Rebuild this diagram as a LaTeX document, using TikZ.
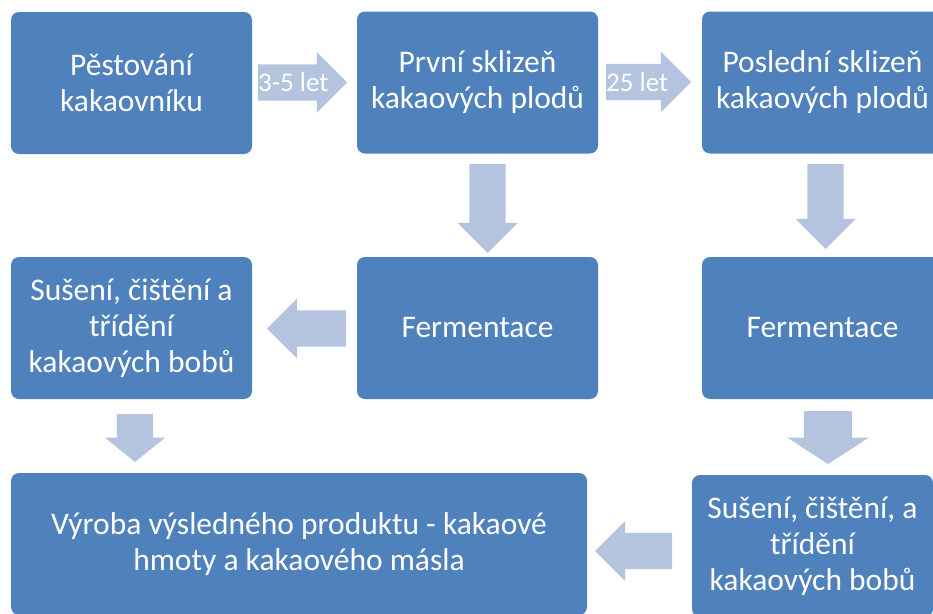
\documentclass[tikz,border=0pt]{standalone}
\usepackage{fontspec}
\setmainfont{Carlito}
\usetikzlibrary{shapes.arrows}
\definecolor{boxblue}{RGB}{79,129,189}
\definecolor{arrowblue}{RGB}{180,196,222}

\begin{document}
\begin{tikzpicture}[x=1pt,y=-1pt,
  box/.style={fill=boxblue, rounded corners=8pt, text=white, align=center, inner sep=2pt,
    minimum width=241pt, minimum height=142pt, font=\fontsize{31.5}{36}\selectfont},
  arr/.style={single arrow, fill=arrowblue, inner xsep=0pt, inner ysep=18pt, outer sep=0pt,
    single arrow head extend=12pt, minimum width=60pt, anchor=tail},
  lbl/.style={text=white, inner sep=0pt, anchor=west, font=\fontsize{27}{30}\selectfont}]
\useasboundingbox (0,0) rectangle (933,613);
\clip (0,0) rectangle (933,613);
\coordinate (P) at (131.5,83); \coordinate (S) at (477.5,82.5); \coordinate (L) at (822.5,82.5);
\coordinate (B) at (131.5,328); \coordinate (F) at (477.5,328); \coordinate (G) at (822.5,328);
\coordinate (V) at (299,544); \coordinate (C) at (812.5,546);
\node[box] (pest) at (P) {Pěstování\\kakaovníku};
\node[box] (prvni) at (S) {První sklizeň\\kakaových plodů};
\node[box] (posledni) at (L) {Poslední sklizeň\\kakaových plodů};
\node[box] (suseni) at (B) {Sušení, čištění a\\třídění\\kakaových bobů};
\node[box] (ferm) at (F) {Fermentace};
\node[box] (fermb) at (G) {Fermentace};
\node[box, minimum width=576pt] (vyroba) at (V) {Výroba výsledného produktu - kakaové\\hmoty a kakaového másla};
\node[box] (susenib) at (C) {Sušení, čištění, a\\třídění\\kakaových bobů};
\node[arr, minimum height=89pt] (r1) at (258,82.5) {};
\node[lbl] (t1) at (r1.tail) {3-5 let};
\node[arr, minimum height=85pt] (r2) at (606,82) {};
\node[lbl] (t2) at (r2.tail) {25 let};
\node[arr, minimum height=89pt, rotate=-90] (d1) at (487.5,164) {};
\node[arr, minimum height=85pt, rotate=-90] (d2) at (825.5,164) {};
\node[arr, minimum height=79pt, shape border rotate=180] (l1) at (346,328.5) {};
\node[arr, minimum height=48pt, rotate=-90, single arrow tip angle=102] (d3) at (135,414) {};
\node[arr, minimum height=53pt, minimum width=81pt, inner ysep=24pt, single arrow head extend=16.5pt,
  rotate=-90, single arrow tip angle=114] (d4) at (828,411) {};
\node[arr, minimum height=77pt, shape border rotate=180] (l2) at (672,551) {};
\end{tikzpicture}
\end{document}
